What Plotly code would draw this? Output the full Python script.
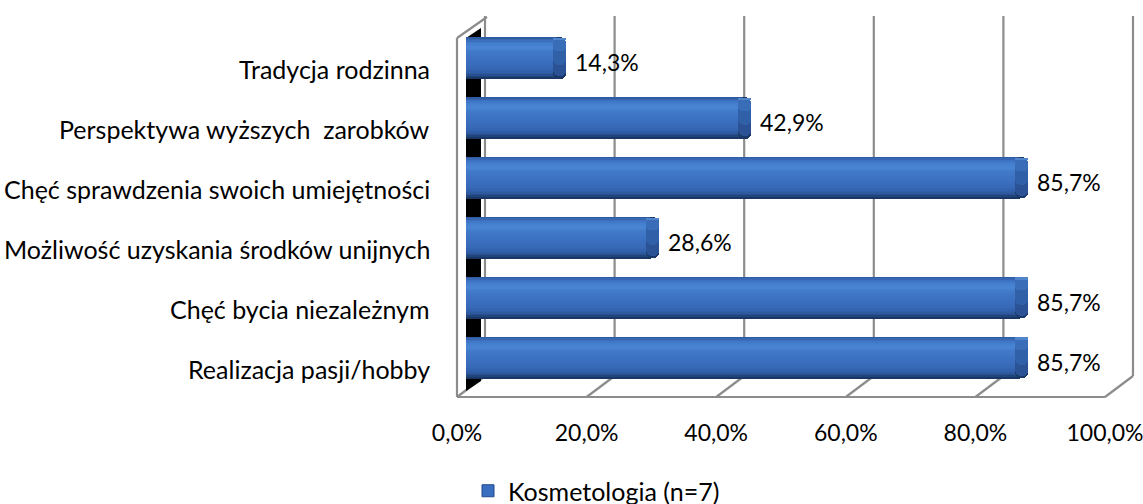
import plotly.graph_objects as go

# ---- data -------------------------------------------------------------
categories = [
    "Realizacja pasji/hobby",
    "Chęć bycia niezależnym",
    "Możliwość uzyskania środków unijnych",
    "Chęć sprawdzenia swoich umiejętności",
    "Perspektywa wyższych  zarobków",
    "Tradycja rodzinna",
]
values = [85.7, 85.7, 28.6, 85.7, 42.9, 14.3]
tick_values = [0, 20, 40, 60, 80, 100]
tick_labels = ["0,0%", "20,0%", "40,0%", "60,0%", "80,0%", "100,0%"]
series_name = "Kosmetologia (n=7)"

# ---- page geometry (pixels) -------------------------------------------
W, H = 1143, 504
FONT = "Lato, 'Open Sans', sans-serif"
FS_TEXT = 25
FS_NUM = 23
GRID = "#8c8c8c"

FRONT_X0, FRONT_X1 = 457, 1105      # front edge of the floor (0% .. 100%)
BACK_X0, BACK_X1 = 485, 1133        # back wall (0% .. 100%)
FRONT_FLOOR_Y, BACK_FLOOR_Y = 397, 376
WALL_TOP_Y = 16
BAR_X0, BAR_X1 = 474, 1120          # plane in which the bars sit
ROW_TOP, ROW_BOTTOM = 58, 357.5     # centres of the top and bottom bars
X_LO = -2.0                         # axis starts a little left of 0 so bars enter the wall


def px(xp):
    return xp / W


def py(yp):
    return 1 - yp / H


def hex_rgb(h):
    h = h.lstrip("#")
    return tuple(int(h[i:i + 2], 16) for i in (0, 2, 4))


def blend(stops, t):
    """Colour at fraction t of a list of (fraction, hex) stops."""
    for (t0, c0), (t1, c1) in zip(stops, stops[1:]):
        if t0 <= t <= t1:
            f = 0 if t1 == t0 else (t - t0) / (t1 - t0)
            a, b = hex_rgb(c0), hex_rgb(c1)
            r, g, bl = (round(a[k] + (b[k] - a[k]) * f) for k in range(3))
            return f"rgb({r},{g},{bl})"
    return stops[-1][1]


n = len(categories)
step = (ROW_BOTTOM - ROW_TOP) / (n - 1)
y_dom = [py(ROW_BOTTOM + step / 2), py(ROW_TOP - step / 2)]
bar_scale = (BAR_X1 - BAR_X0) / 100
x_dom = [px(BAR_X0 + X_LO * bar_scale), px(BAR_X1)]

fig = go.Figure()

# ---- bar body: thin horizontal slices form a vertical gradient -------
WALL_INSET = 1.2   # bars start slightly inside the left wall
CAP = 2.0          # depth of the bar's end face, in axis units
HALF = 0.345       # half thickness of a bar, in category units
body_stops = [      # 0 = top edge, 1 = bottom edge
    (0.00, "#2b5598"), (0.06, "#3868b5"), (0.15, "#437dcd"),
    (0.25, "#4a86d5"), (0.36, "#4179c9"), (0.55, "#3c70c0"),
    (0.75, "#3668b6"), (0.87, "#2f5ba3"), (0.94, "#22467f"),
    (1.00, "#15305a"),
]
SLICES = 28
body_len = [v + WALL_INSET - CAP * 0.6 for v in values]
for k in range(SLICES):
    t = (k + 0.5) / SLICES
    top = HALF - 2 * HALF * k / SLICES
    fig.add_trace(go.Bar(
        y=categories, x=body_len, base=-WALL_INSET, orientation="h",
        offset=top - 2 * HALF / SLICES - 0.002, width=2 * HALF / SLICES + 0.004,
        marker=dict(color=blend(body_stops, t), line=dict(width=0)),
        name=series_name, showlegend=False, hoverinfo="skip",
    ))

# ---- end face of each bar: nested rounded layers ---------------------
cap_layers = [
    (-HALF, 2 * HALF, "#1a3867", 8),
    (-HALF + 0.04, 2 * HALF - 0.05, "#2a5295", 7),
    (-0.12, 0.40, "#3060a8", 6),
    (0.12, 0.20, "#3a6db8", 4),
    (HALF - 0.05, 0.04, "#5085cc", 2),
]
for off, wid, col, rad in cap_layers:
    fig.add_trace(go.Bar(
        y=categories, x=[CAP] * n, base=[v - CAP for v in values],
        orientation="h", offset=off, width=wid,
        marker=dict(color=col, line=dict(width=0), cornerradius=rad),
        showlegend=False, hoverinfo="skip",
    ))

# legend entry for the series
fig.add_trace(go.Bar(
    y=[None], x=[None], orientation="h", name=series_name,
    marker=dict(color="#3a6fc0", line=dict(color="#1f4a8a", width=1)),
    showlegend=True, hoverinfo="skip",
))

# empty trace so the front axis with the percentage labels is drawn
fig.add_trace(go.Scatter(x=[], y=[], xaxis="x2", yaxis="y", showlegend=False))

# ---- value labels ----------------------------------------------------
annotations = []
for cat, v in zip(categories, values):
    annotations.append(dict(
        x=v, y=cat, xref="x", yref="y", text=f"{v:.1f}%".replace(".", ","),
        showarrow=False, xanchor="left", yanchor="middle", xshift=7, yshift=-4,
        font=dict(family=FONT, size=FS_NUM, color="#000000"),
    ))
# category labels sit on the front plane
for cat in categories:
    annotations.append(dict(
        x=px(432), y=cat, xref="paper", yref="y", text=cat,
        showarrow=False, xanchor="right", yanchor="middle", yshift=-11,
        font=dict(family=FONT, size=FS_TEXT, color="#000000"),
    ))

# ---- 3-D frame: back wall, floor, left wall (all behind the bars) ----
shapes = []
line = dict(color=GRID, width=2.2)
fscale = (FRONT_X1 - FRONT_X0) / 100
bscale = (BACK_X1 - BACK_X0) / 100


def seg(x0, y0, x1, y1):
    shapes.append(dict(type="line", xref="paper", yref="paper",
                       x0=px(x0), y0=py(y0), x1=px(x1), y1=py(y1),
                       line=line, layer="below"))


for t in tick_values:
    xf = FRONT_X0 + t * fscale
    xb = BACK_X0 + t * bscale
    seg(xb, BACK_FLOOR_Y, xb, WALL_TOP_Y)          # back-wall gridline
    seg(xf, FRONT_FLOOR_Y, xb, BACK_FLOOR_Y)       # floor gridline
seg(FRONT_X0, FRONT_FLOOR_Y, FRONT_X1, FRONT_FLOOR_Y)

shapes.append(dict(type="path", xref="paper", yref="paper",
                   path=(f"M {px(466)} {py(391)} L {px(466)} {py(38)} "
                         f"L {px(481)} {py(28)} L {px(481)} {py(381)} Z"),
                   fillcolor="#000000", line=dict(width=0), layer="below"))
seg(FRONT_X0, FRONT_FLOOR_Y, FRONT_X0, 38)
seg(FRONT_X0, 38, BACK_X0 + 2, WALL_TOP_Y + 1)

fig.update_layout(
    template="none",
    width=W, height=H,
    margin=dict(l=0, r=0, t=0, b=0, autoexpand=False),
    paper_bgcolor="white", plot_bgcolor="rgba(0,0,0,0)",
    barmode="overlay", bargap=0,
    font=dict(family=FONT, size=FS_TEXT, color="#000000"),
    xaxis=dict(domain=x_dom, range=[X_LO, 100], anchor="y",
               automargin=False, showgrid=False, zeroline=False,
               showticklabels=False, showline=False, ticks=""),
    yaxis=dict(domain=y_dom, type="category", categoryorder="array",
               categoryarray=categories, range=[-0.5, n - 0.5], anchor="x",
               automargin=False, showgrid=False, zeroline=False,
               showticklabels=False, showline=False, ticks=""),
    xaxis2=dict(domain=[px(FRONT_X0), px(FRONT_X1)], range=[0, 100],
                anchor="free", position=py(FRONT_FLOOR_Y), automargin=False,
                tickmode="array", tickvals=tick_values, ticktext=tick_labels,
                ticks="", ticklabelstandoff=20, ticklabeloverflow="allow",
                showgrid=False, zeroline=False, showline=False,
                tickfont=dict(family=FONT, size=FS_NUM, color="#000000")),
    legend=dict(orientation="h", x=0.5 + 25 / W, xanchor="center", y=py(491),
                yanchor="middle",
                font=dict(family=FONT, size=FS_TEXT, color="#000000"),
                bgcolor="rgba(0,0,0,0)", borderwidth=0),
    showlegend=True,
    annotations=annotations,
    shapes=shapes,
)

fig.write_html("out.html")
